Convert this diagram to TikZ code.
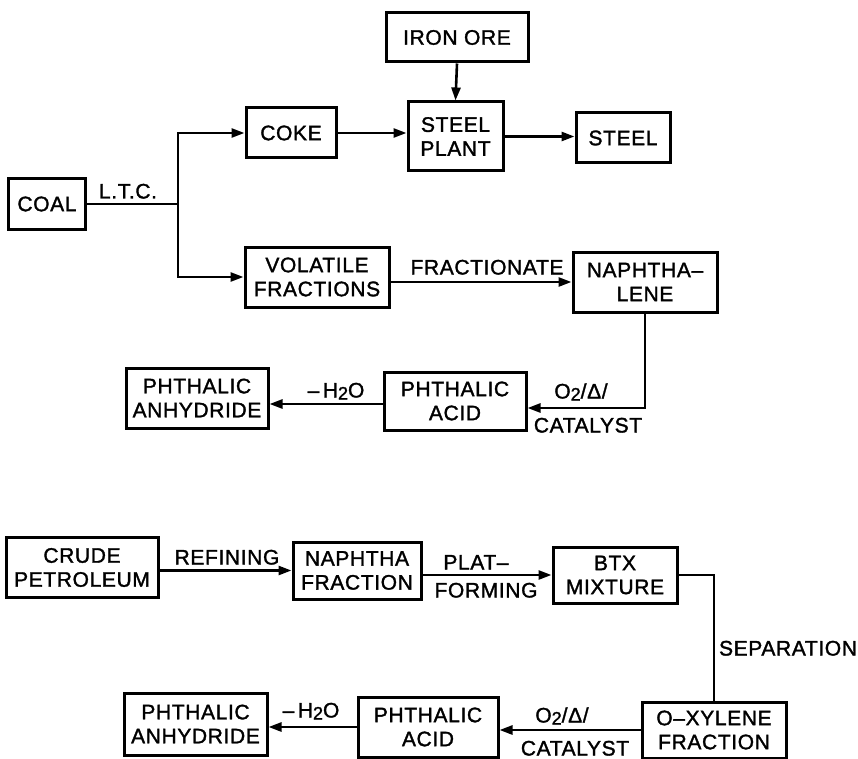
\documentclass[tikz,border=0pt]{standalone}
\usepackage{fontspec}
\setmainfont{Liberation Sans}[UprightFeatures={FakeBold=1.5}, LetterSpace=3]
\usetikzlibrary{arrows.meta}
\newcommand{\lowtwo}{\raisebox{-2pt}{\fontsize{18}{18}\selectfont 2}}

\begin{document}
\begin{tikzpicture}[x=1pt, y=-1pt,
    every node/.style={font=\fontsize{21}{24}\selectfont},
    blk/.style={draw, line width=3pt, inner sep=0pt, align=center},
    lbl/.style={inner sep=0pt, text height=15pt, text depth=0pt},
    flow/.style={line width=2.6pt, -{Triangle[length=13pt,width=9pt]}},
    line/.style={line width=2.6pt}]

    \useasboundingbox (0,0) rectangle (858,759);

    % Coal route: blocks
    \node[blk, minimum width=77pt, minimum height=50pt] (coal) at (47,204) {COAL};
    \node[blk, minimum width=90pt, minimum height=50pt] (coke) at (291,133) {COKE};
    \node[blk, minimum width=142pt, minimum height=49pt] (ironore) at (457,37.5) {IRON ORE};
    \node[blk, minimum width=95pt, minimum height=69pt] (plant) at (455.5,136.5) {STEEL\\PLANT};
    \node[blk, minimum width=94pt, minimum height=50pt] (steel) at (623,138) {STEEL};
    \node[blk, minimum width=144pt, minimum height=60pt] (volatile) at (317,277) {VOLATILE\\FRACTIONS};
    \node[blk, minimum width=144pt, minimum height=60pt] (naphthalene) at (645,282) {NAPHTHA–\\LENE};
    \node[blk, minimum width=142pt, minimum height=58pt] (acidA) at (455,401) {PHTHALIC\\ACID};
    \node[blk, minimum width=142pt, minimum height=60pt] (anhydA) at (197,398) {PHTHALIC\\ANHYDRIDE};

    % Coal route: labels
    \node[lbl] (ltc) at (128,191) {L.T.C.};
    \node[lbl] (fract) at (487,267) {FRACTIONATE};
    \node[lbl] (waterA) at (336,390) {–\,H\lowtwo O};
    \node[lbl] (oxA) at (581,391) {O\lowtwo/Δ/};
    \node[lbl] (catA) at (588,425) {CATALYST};

    % Coal route: arrows
    \coordinate (split) at (178,204);
    \draw[line] (coal.east) -- (split);
    \draw[flow] (split) |- (coke.west);
    \draw[flow] (split) |- (volatile.west);
    \draw[flow] (coke.east) -- (coke.east -| plant.west);
    \draw[flow] (ironore.south) -- (plant.north);
    \draw[flow] (plant.east) -- (plant.east -| steel.west);
    \draw[flow] ([yshift=-5pt]volatile.east) -- ([yshift=-5pt]volatile.east -| naphthalene.west);
    \draw[flow] (naphthalene.south) |- ([yshift=-7pt]acidA.east);
    \draw[flow] ([yshift=-3pt]acidA.west) -- ([yshift=-3pt]acidA.west -| anhydA.east);

    % Petroleum route: blocks
    \node[blk, minimum width=152pt, minimum height=60pt] (crude) at (82,567.5) {CRUDE\\PETROLEUM};
    \node[blk, minimum width=128pt, minimum height=57pt] (naphtha) at (357,570.5) {NAPHTHA\\FRACTION};
    \node[blk, minimum width=124pt, minimum height=56pt] (btx) at (615,575) {BTX\\MIXTURE};
    \node[blk, minimum width=144pt, minimum height=56pt] (oxylene) at (714,730) {O–XYLENE\\FRACTION};
    \node[blk, minimum width=140pt, minimum height=60pt] (acidB) at (428,727) {PHTHALIC\\ACID};
    \node[blk, minimum width=143pt, minimum height=62pt] (anhydB) at (195.5,724) {PHTHALIC\\ANHYDRIDE};

    % Petroleum route: labels
    \node[lbl] (refining) at (227,557) {REFINING};
    \node[lbl] (plat) at (476,562) {PLAT–};
    \node[lbl] (forming) at (486,590) {FORMING};
    \node[lbl] (separation) at (788,648) {SEPARATION};
    \node[lbl] (waterB) at (311,710) {–\,H\lowtwo O};
    \node[lbl] (oxB) at (562,715) {O\lowtwo/Δ/};
    \node[lbl] (catB) at (575,748) {CATALYST};

    % Petroleum route: arrows
    \draw[flow] (crude.east |- naphtha.west) -- (naphtha.west);
    \draw[flow] (naphtha.east |- btx.west) -- (btx.west);
    \draw[line] (btx.east) -| (oxylene.north);
    \draw[flow] (oxylene.west) -- (oxylene.west -| acidB.east);
    \draw[flow] (acidB.west) -- (acidB.west -| anhydB.east);

\end{tikzpicture}
\end{document}
